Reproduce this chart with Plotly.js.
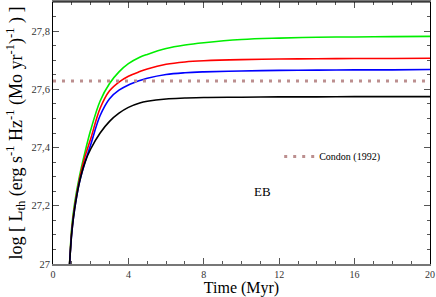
<!DOCTYPE html>
<html>
<head>
<meta charset="utf-8">
<script src="https://cdn.plot.ly/plotly-3.0.1.min.js"></script>
<style>html,body{margin:0;padding:0;background:#fff;}#chart{width:436px;height:297px;}</style>
</head>
<body>
<div id="chart"></div>
<script>
var time = [0.88, 1.0, 1.15, 1.4, 1.7, 2.0, 2.5, 3.0, 3.5, 4.0, 4.6, 5.0, 6.0, 7.0, 8.0, 10, 12, 14, 16, 18, 20];
var green = [27.0, 27.13, 27.21, 27.30, 27.385, 27.46, 27.56, 27.62, 27.66, 27.688, 27.71, 27.72, 27.74, 27.752, 27.76, 27.771, 27.776, 27.779, 27.780, 27.781, 27.782];
var red   = [27.0, 27.12, 27.20, 27.29, 27.37, 27.43, 27.535, 27.595, 27.625, 27.645, 27.661, 27.670, 27.686, 27.694, 27.698, 27.702, 27.704, 27.705, 27.706, 27.706, 27.707];
var blue  = [27.0, 27.11, 27.19, 27.28, 27.35, 27.41, 27.51, 27.568, 27.597, 27.615, 27.63, 27.638, 27.651, 27.657, 27.660, 27.663, 27.665, 27.666, 27.667, 27.667, 27.668];
var black = [27.0, 27.11, 27.19, 27.28, 27.35, 27.395, 27.45, 27.49, 27.518, 27.538, 27.553, 27.559, 27.567, 27.570, 27.572, 27.573, 27.574, 27.574, 27.575, 27.575, 27.575];
var condonX = [0, 20];
var condonY = [27.629, 27.629];
var condonName = 'Condon (1992)';

var serif = 'Liberation Serif';
var lw = 1.6;
var traces = [
  {x: time, y: green, mode: 'lines', line: {color: '#00ee00', width: lw, shape: 'spline', smoothing: 1}, showlegend: false},
  {x: time, y: red, mode: 'lines', line: {color: '#ff0000', width: lw, shape: 'spline', smoothing: 1}, showlegend: false},
  {x: time, y: blue, mode: 'lines', line: {color: '#0000ff', width: lw, shape: 'spline', smoothing: 1}, showlegend: false},
  {x: time, y: black, mode: 'lines', line: {color: '#000000', width: lw, shape: 'spline', smoothing: 1}, showlegend: false},
  {x: condonX, y: condonY, mode: 'lines', name: condonName, line: {color: '#bc8f8f', width: 3, dash: '3px,6px'}, showlegend: true}
];

var layout = {
  width: 436, height: 297,
  margin: {l: 53, r: 6, t: 2, b: 33},
  paper_bgcolor: '#fff', plot_bgcolor: '#fff',
  separators: ',.',
  font: {family: serif, color: '#000'},
  xaxis: {
    range: [0, 20], tickvals: [0,4,8,12,16,20], ticks: 'inside', ticklen: 6, tickcolor: '#555',
    showline: true, linecolor: '#777', linewidth: 2, mirror: 'allticks', showgrid: false, zeroline: false,
    minor: {dtick: 1, ticks: 'inside', ticklen: 3, tickcolor: '#555', showgrid: false},
    tickfont: {family: serif, size: 10, color: '#333'},
    title: {text: 'Time (Myr)', font: {family: serif, size: 16, color: '#000'}, standoff: 2}
  },
  yaxis: {
    range: [27, 27.9], tickvals: [27, 27.2, 27.4, 27.6, 27.8], ticks: 'inside', ticklen: 6, tickcolor: '#555',
    showline: true, linecolor: '#000', linewidth: 1, mirror: 'allticks', showgrid: false, zeroline: false,
    minor: {dtick: 0.05, ticks: 'inside', ticklen: 3, tickcolor: '#555', showgrid: false},
    tickfont: {family: serif, size: 10.5, color: '#333'},
    title: {text: 'log [ L<sub>th</sub> (erg s<sup>-1</sup> Hz<sup>-1</sup> (Mo yr<sup>-1</sup>)<sup>-1</sup> ) ]', font: {family: serif, size: 18, color: '#000'}, standoff: 4}
  },
  legend: {x: 0.6, y: 0.41, xanchor: 'left', yanchor: 'middle', bgcolor: 'rgba(0,0,0,0)', font: {family: serif, size: 10, color: '#000'}},
  annotations: [
    {x: 11.1, y: 27.249, xref: 'x', yref: 'y', text: 'EB', showarrow: false, font: {family: serif, size: 13, color: '#000'}}
  ],
  shapes: [
    {type: 'line', xref: 'paper', yref: 'paper', x0: 0, x1: 1, y0: 1, y1: 1, line: {color: '#000', width: 1}}
  ]
};
Plotly.newPlot('chart', traces, layout, {displayModeBar: false, staticPlot: true});
</script>
</body>
</html>
